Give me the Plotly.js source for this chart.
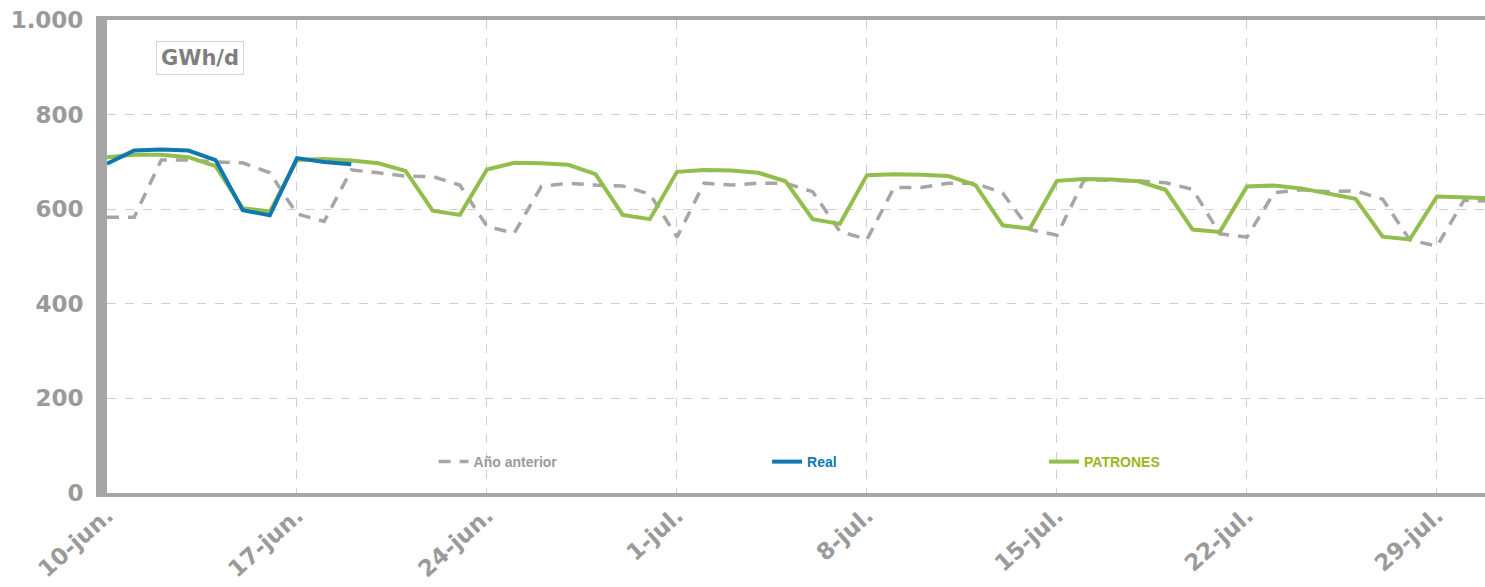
<!DOCTYPE html>
<html>
<head>
<meta charset="utf-8">
<script src="https://cdn.plot.ly/plotly-3.0.1.min.js"></script>
<style>
  body { margin: 0; padding: 0; background: #fff; }
  #chart { width: 1485px; height: 587px; }
</style>
</head>
<body>
<div id="chart"></div>
<script>
// daily demand, GWh/d, one value per day from 10-jun
const startDate = '2019-06-10';

const anioAnterior = [583, 583, 704, 704, 700, 698, 677, 590, 574, 683, 677, 670, 669, 651,
  564, 549, 648, 655, 651, 649, 632, 541, 655, 651, 655, 655, 637, 553, 536,
  646, 646, 655, 655, 634, 557, 545, 662, 661, 660, 656, 642, 548, 541, 635,
  641, 637, 639, 621, 535, 522, 619, 617];

const real = [696, 724, 726, 724, 704, 598, 587, 708, 700, 695];

const patrones = [710, 715, 715, 710, 691, 602, 595, 704, 706, 703, 697, 681, 597, 588,
  684, 698, 697, 694, 674, 588, 579, 679, 683, 682, 677, 659, 579, 569, 672,
  674, 673, 670, 651, 566, 559, 660, 664, 663, 659, 641, 557, 552, 648, 650,
  644, 634, 622, 542, 536, 627, 625, 623];

const tickDates = ['2019-06-10', '2019-06-17', '2019-06-24', '2019-07-01', '2019-07-08',
  '2019-07-15', '2019-07-22', '2019-07-29'];
const tickLabels = ['10-jun.', '17-jun.', '24-jun.', '1-jul.', '8-jul.', '15-jul.', '22-jul.', '29-jul.'];

const yTicks = [0, 200, 400, 600, 800, 1000];
const yLabels = ['0', '200', '400', '600', '800', '1.000'];

function daysFrom(start, n) {
  const out = [];
  const d0 = new Date(start + 'T00:00:00Z');
  for (let k = 0; k < n; k++) {
    const d = new Date(d0.getTime() + k * 86400000);
    out.push(d.toISOString().slice(0, 10));
  }
  return out;
}

const grey = '#a6a6a6';
const blue = '#0f78b0';
const green = '#93bd4c';
const labelGrey = '#9a9a9a';
const fontMain = 'DejaVu Sans, Verdana, sans-serif';
const fontLegend = 'Liberation Sans Narrow, Liberation Sans, Arial, sans-serif';

const traces = [
  {
    x: daysFrom(startDate, anioAnterior.length), y: anioAnterior,
    type: 'scatter', mode: 'lines', name: 'Año anterior',
    line: { color: grey, width: 3.5, dash: '12px,9px' },
    legend: 'legend'
  },
  {
    x: daysFrom(startDate, patrones.length), y: patrones,
    type: 'scatter', mode: 'lines', name: 'PATRONES',
    line: { color: green, width: 4 },
    legend: 'legend3'
  },
  {
    x: daysFrom(startDate, real.length), y: real,
    type: 'scatter', mode: 'lines', name: 'Real',
    line: { color: blue, width: 4 },
    legend: 'legend2'
  }
];

// fractional end of the visible range (plot is cut at the right edge)
const endMs = new Date(startDate + 'T00:00:00Z').getTime() + 50.77 * 86400000;

function legendBox(xp, color) {
  return {
    x: xp, y: 0.0655, xanchor: 'left', yanchor: 'middle',
    orientation: 'h', bgcolor: 'rgba(0,0,0,0)', borderwidth: 0,
    font: { family: fontLegend, size: 14, color: color, weight: 'bold' },
    itemwidth: 30, tracegroupgap: 0
  };
}

const layout = {
  width: 1485, height: 587,
  margin: { l: 107, r: 0, t: 20, b: 94 },
  paper_bgcolor: '#ffffff',
  plot_bgcolor: '#ffffff',
  showlegend: true,
  legend: legendBox(0.237, labelGrey),
  legend2: legendBox(0.479, blue),
  legend3: legendBox(0.680, '#99b820'),
  xaxis: {
    type: 'date',
    range: [startDate, new Date(endMs).toISOString()],
    tickvals: tickDates, ticktext: tickLabels,
    tickangle: -42,
    tickfont: { family: fontMain, size: 23, color: labelGrey, weight: 'bold' },
    showgrid: true, gridcolor: '#cfcfcf', griddash: 'dash', gridwidth: 1,
    showline: true, linecolor: grey, linewidth: 4, mirror: true,
    ticks: '', ticklabelstandoff: -4, zeroline: false, fixedrange: true
  },
  yaxis: {
    range: [0, 1000],
    tickvals: yTicks, ticktext: yLabels,
    tickfont: { family: fontMain, size: 23, color: labelGrey, weight: 'bold' },
    showgrid: true, gridcolor: '#cfcfcf', griddash: 'dash', gridwidth: 1,
    showline: true, linecolor: grey, linewidth: 11,
    ticks: '', ticklabelstandoff: 8, zeroline: false, fixedrange: true
  },
  annotations: [
    {
      xref: 'paper', yref: 'paper', x: 0.0675, y: 0.92,
      xanchor: 'center', yanchor: 'middle',
      text: 'GWh/d', showarrow: false,
      font: { family: fontMain, size: 21, color: '#7f7f7f', weight: 'bold' },
      bgcolor: '#ffffff', bordercolor: '#d4d4d4', borderwidth: 1, borderpad: 4
    }
  ]
};

Plotly.newPlot('chart', traces, layout, { displayModeBar: false, staticPlot: true });
</script>
</body>
</html>
